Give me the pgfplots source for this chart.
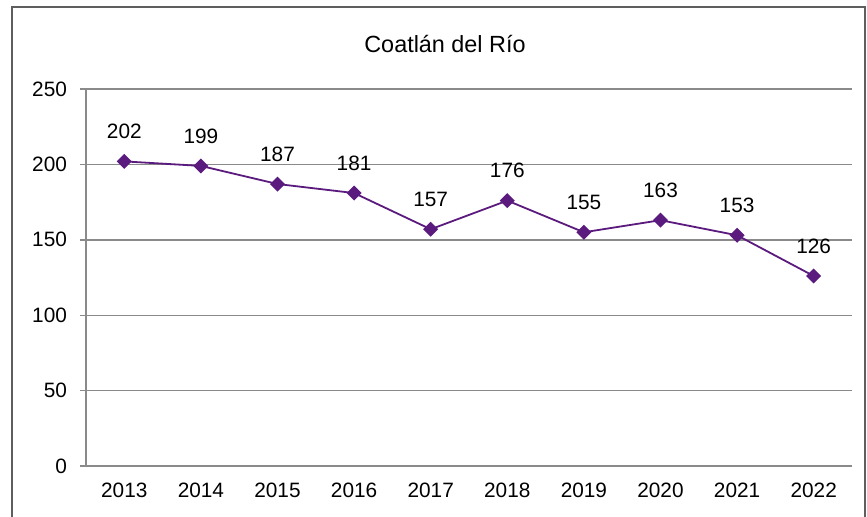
\documentclass[border=0pt]{standalone}
\usepackage{fontspec}
\setmainfont{Liberation Sans}
\usepackage{pgfplots}
\pgfplotsset{compat=1.18}
\definecolor{LinePurple}{HTML}{5B1A7E}
\definecolor{GridGray}{HTML}{8A8A8A}
\definecolor{FrameGray}{HTML}{5E5E5E}

\begin{document}
\begin{tikzpicture}
\useasboundingbox (-43pt,-25pt) rectangle (390.5pt,233pt);
\draw[FrameGray,line width=0.8pt] (-37pt,-26pt) -- (-37pt,229.5pt) -- (389.5pt,229.5pt) -- (389.5pt,-26pt);
\node[font=\fontsize{11.7}{13}\selectfont] at (179.5pt,211pt) {Coatlán del Río};
\begin{axis}[
  at={(0,0)}, anchor=south west,
  scale only axis,
  width=383pt, height=188.5pt,
  xmin=-0.5, xmax=9.5,
  ymin=0, ymax=250,
  xtick={0,1,2,3,4,5,6,7,8,9},
  xticklabels={2013,2014,2015,2016,2017,2018,2019,2020,2021,2022},
  extra x ticks={-0.5,0.5,1.5,2.5,3.5,4.5,5.5,6.5,7.5,8.5,9.5},
  extra x tick labels={},
  extra x tick style={major tick length=3.5pt, tick style={draw=GridGray, line width=0.7pt}, grid=none},
  ytick={0,50,100,150,200,250},
  axis x line*=bottom,
  axis y line*=left,
  axis line style={draw=GridGray, line width=0.8pt, -},
  tick align=outside,
  x tick style={draw=none},
  y tick style={draw=GridGray, line width=0.7pt},
  major tick length=3pt,
  ymajorgrids=true,
  grid style={draw=GridGray, line width=0.7pt},
  tick label style={font=\fontsize{10.4}{12}\selectfont, text=black},
  /pgf/number format/assume math mode=true,
  yticklabel style={xshift=-3pt},
  xticklabel style={yshift=-2pt},
  clip=false,
  nodes near coords,
  every node near coord/.append style={font=\fontsize{10.4}{12}\selectfont, text=black, anchor=center, yshift=15pt},
]
\addplot[color=LinePurple, line width=0.9pt, mark=square*, mark size=2.2pt, mark options={rotate=45, fill=LinePurple, draw=LinePurple}]
  coordinates {(0,202) (1,199) (2,187) (3,181) (4,157) (5,176) (6,155) (7,163) (8,153) (9,126)};
\end{axis}
\end{tikzpicture}
\end{document}
